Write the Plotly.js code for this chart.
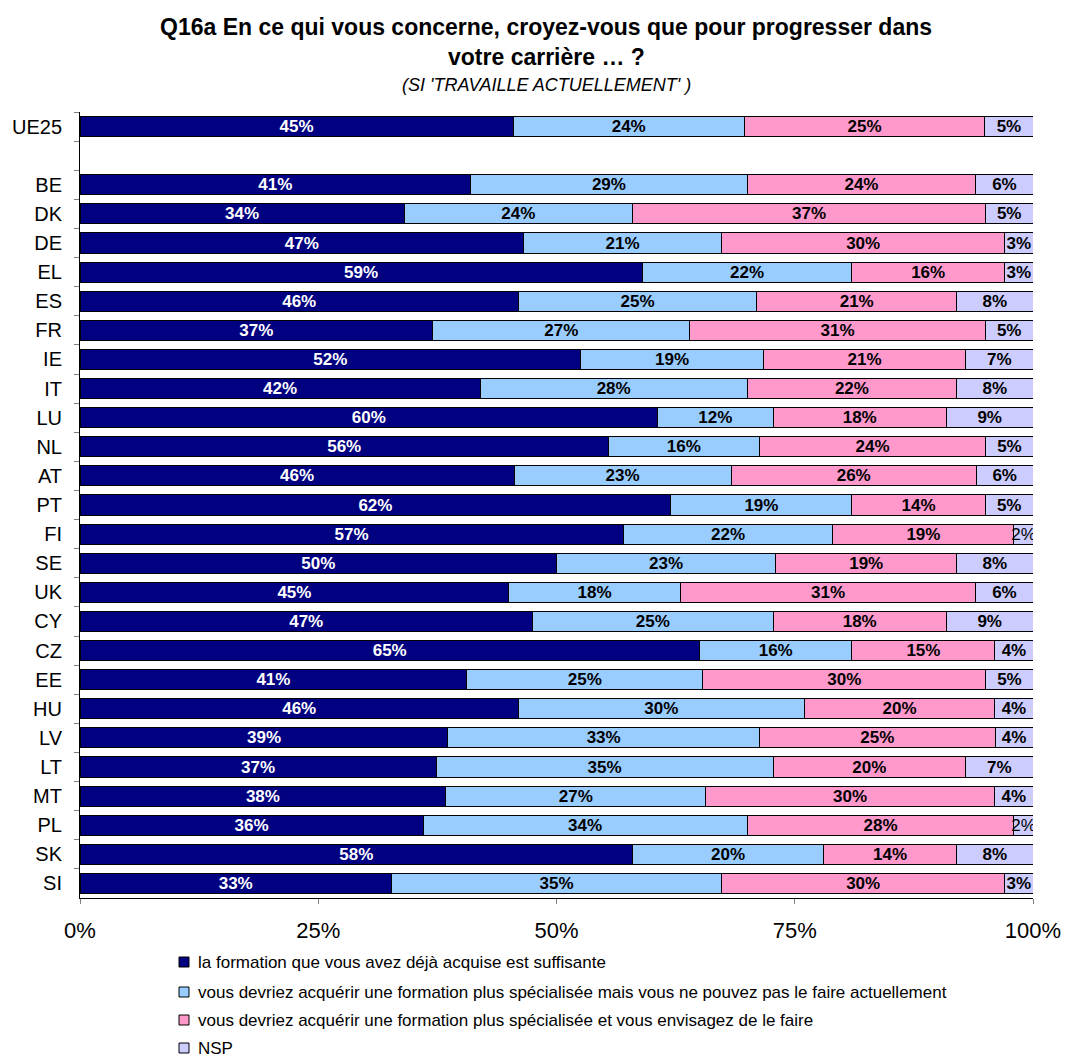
<!DOCTYPE html>
<html>
<head>
<meta charset="utf-8">
<script src="https://cdn.plot.ly/plotly-3.0.1.min.js"></script>
<style>html,body{margin:0;padding:0;background:#fff;}#chart{width:1065px;height:1059px;}</style>
</head>
<body>
<div id="chart"></div>
<script>
const categories = ["UE25","BE","DK","DE","EL","ES","FR","IE","IT","LU","NL","AT","PT","FI","SE","UK","CY","CZ","EE","HU","LV","LT","MT","PL","SK","SI"];
const axisOrder = ["UE25"," ","BE","DK","DE","EL","ES","FR","IE","IT","LU","NL","AT","PT","FI","SE","UK","CY","CZ","EE","HU","LV","LT","MT","PL","SK","SI"];
const suffisante = [45,41,34,47,59,46,37,52,42,60,56,46,62,57,50,45,47,65,41,46,39,37,38,36,58,33];
const nePouvezPas = [24,29,24,21,22,25,27,19,28,12,16,23,19,22,23,18,25,16,25,30,33,35,27,34,20,35];
const envisagez = [25,24,37,30,16,21,31,21,22,18,24,26,14,19,19,31,18,15,30,20,25,20,30,28,14,30];
const nsp = [5,6,5,3,3,8,5,7,8,9,5,6,5,2,8,6,9,4,5,4,4,7,4,2,8,3];
const seriesNames = [
  "la formation que vous avez déjà acquise est suffisante",
  "vous devriez acquérir une formation plus spécialisée mais vous ne pouvez pas le faire actuellement",
  "vous devriez acquérir une formation plus spécialisée et vous envisagez de le faire",
  "NSP"
];
const xTickVals = [0,25,50,75,100];
const xTickText = ["0%","25%","50%","75%","100%"];

const colors = ["#000080","#99CCFF","#FF99CC","#CCCCFF"];
const txtColors = ["#FFFFFF","#000000","#000000","#000000"];
const series = [suffisante, nePouvezPas, envisagez, nsp];

// page layout (pixels)
const W = 1065, H = 1059;
const M = {l: 80, r: 32, t: 112, b: 161};
const PW = W - M.l - M.r, PH = H - M.t - M.b;
const px = x => (x - M.l) / PW;
const py = y => (H - M.b - y) / PH;

const traces = series.map((vals, i) => ({
  type: "bar",
  orientation: "h",
  name: seriesNames[i],
  y: categories,
  x: vals,
  text: vals.map(v => v <= 2 ? v + "%" : "<b>" + v + "%</b>"),
  texttemplate: "%{text}",
  textposition: "inside",
  insidetextanchor: "middle",
  textangle: 0,
  constraintext: "none",
  textfont: {family: "Liberation Sans, Arial, sans-serif", size: 17, color: txtColors[i]},
  marker: {color: colors[i], line: {color: "#000000", width: 1}},
  hoverinfo: "skip",
  showlegend: false
}));

const legendY = [962, 992, 1020, 1048];
const shapes = [];
const annotations = [
  {text: "<b>Q16a En ce qui vous concerne, croyez-vous que pour progresser dans</b>", xref: "paper", yref: "paper",
   x: px(546), y: py(27), xanchor: "center", yanchor: "middle", showarrow: false,
   font: {size: 23, color: "#000000"}},
  {text: "<b>votre carrière … ?</b>", xref: "paper", yref: "paper",
   x: px(546), y: py(57), xanchor: "center", yanchor: "middle", showarrow: false,
   font: {size: 23, color: "#000000"}},
  {text: "<i>(SI 'TRAVAILLE ACTUELLEMENT' )</i>", xref: "paper", yref: "paper",
   x: px(546), y: py(85), xanchor: "center", yanchor: "middle", showarrow: false,
   font: {size: 18, color: "#000000"}}
];
seriesNames.forEach((name, i) => {
  shapes.push({type: "rect", xref: "paper", yref: "paper",
    x0: px(179), x1: px(189), y0: py(legendY[i] + 5), y1: py(legendY[i] - 5),
    fillcolor: colors[i], line: {color: "#000000", width: 1}});
  annotations.push({text: name, xref: "paper", yref: "paper",
    x: px(196), y: py(legendY[i]), xanchor: "left", yanchor: "middle", showarrow: false,
    font: {size: 17, color: "#000000"}});
});

const layout = {
  width: W, height: H,
  margin: M,
  paper_bgcolor: "#FFFFFF", plot_bgcolor: "#FFFFFF",
  barmode: "stack", barnorm: "percent", bargap: 0.31,
  font: {family: "Liberation Sans, Arial, sans-serif", color: "#000000"},
  showlegend: false,
  xaxis: {
    range: [0, 100], tickvals: xTickVals, ticktext: xTickText,
    ticks: "outside", ticklen: 5, tickcolor: "#808080",
    showline: true, linecolor: "#000000", linewidth: 1,
    showgrid: false, zeroline: false, fixedrange: true,
    tickfont: {size: 22, color: "#000000"}, ticklabelstandoff: 8
  },
  yaxis: {
    type: "category", categoryorder: "array", categoryarray: axisOrder,
    range: [26.5, -0.5], tickson: "boundaries",
    ticks: "outside", ticklen: 5, tickcolor: "#808080",
    showline: true, linecolor: "#000000", linewidth: 1,
    showgrid: false, zeroline: false, fixedrange: true,
    tickfont: {size: 20, color: "#000000"}, ticklabelstandoff: 13
  },
  shapes: shapes,
  annotations: annotations
};

Plotly.newPlot("chart", traces, layout, {displayModeBar: false, staticPlot: true});
</script>
</body>
</html>
